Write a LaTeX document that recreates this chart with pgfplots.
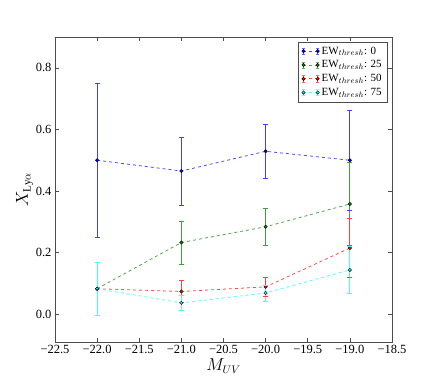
\documentclass[border=0pt]{standalone}
\usepackage{fontspec}
\setmainfont{Liberation Serif}
\usepackage{pgfplots}
\usepackage{pgfplotstable}
\pgfplotsset{compat=1.18}
\definecolor{mblue}{rgb}{0,0,1}
\definecolor{mgreen}{rgb}{0,0.5,0}
\definecolor{mred}{rgb}{1,0,0}
\definecolor{mcyan}{rgb}{0,1,1}
\pgfplotsset{
  ser/.style={
    color=#1!70!white, dashed, line width=0.8pt, mark=none,
    legend image code/.code={
      \draw[#1!70!white, dashed, line width=0.8pt] (0cm,0cm) -- (0.5cm,0cm);
      \draw[#1!75!white, solid, line width=0.7pt] (0cm,-0.11cm) -- (0cm,0.11cm) (0.5cm,-0.11cm) -- (0.5cm,0.11cm);
      \draw[#1!60!white, solid, line width=0.5pt] (-0.05cm,0.11cm) -- (0.05cm,0.11cm) (-0.05cm,-0.11cm) -- (0.05cm,-0.11cm)
         (0.45cm,0.11cm) -- (0.55cm,0.11cm) (0.45cm,-0.11cm) -- (0.55cm,-0.11cm);
      \filldraw[fill=#1, draw=black, solid, line width=0.4pt] (0cm,0cm) circle[radius=1.7pt] (0.5cm,0cm) circle[radius=1.7pt];
    },
  },
  bar/.style={solid, color=#1!75!white, line width=0.8pt,
    mark=-, mark size=2.5pt, mark options={solid, line width=0.6pt}, forget plot},
  mk/.style={only marks, mark=*, mark size=1.7pt,
    mark options={solid, fill=#1, draw=black, line width=0.4pt}, forget plot},
}
\pgfplotstableread{
x y
-22 0.500
-21 0.465
-20 0.529
-19 0.500
}\tblue
\pgfplotstableread{
x y
-22 0.083
-21 0.233
-20 0.284
-19 0.358
}\tgreen
\pgfplotstableread{
x y
-22 0.083
-21 0.074
-20 0.089
-19 0.215
}\tred
\pgfplotstableread{
x y
-22 0.083
-21 0.037
-20 0.069
-19 0.144
}\tcyan
% one error bar: colour, x, lower end, upper end
\newcommand\eb[4]{\addplot[bar=#1] coordinates {(#2,#3) (#2,#4)};}
\begin{document}
\begin{tikzpicture}
\begin{axis}[name=ax, scale only axis, width=337pt, height=305pt,
  xmin=-22.5, xmax=-18.5, ymin=-0.09, ymax=0.9,
  axis line style={black!70, line width=0.8pt},
  tick align=inside, major tick length=4pt,
  tick style={black!70, line width=0.6pt},
  xtick={-22.5,-22,-21.5,-21,-20.5,-20,-19.5,-19,-18.5},
  xticklabels={−22.5,−22.0,−21.5,−21.0,−20.5,−20.0,−19.5,−19.0,−18.5},
  ytick={0,0.2,0.4,0.6,0.8},
  yticklabels={0.0,0.2,0.4,0.6,0.8},
  ticklabel style={font=\fontsize{12.5}{14}\selectfont},
  xlabel={$M_{UV}$}, ylabel={$X_{\mathrm{Ly}\alpha}$},
  label style={font=\fontsize{16}{18}\selectfont},
  xlabel style={yshift=2pt}, ylabel style={yshift=-4pt},
  legend style={at={(0.985,0.985)}, anchor=north east, draw=black!70,
    font=\fontsize{11}{13}\selectfont, inner sep=3pt, row sep=1pt},
  legend cell align=left,
]
% EW 0
\addplot[ser=mblue] table[x=x, y=y] {\tblue};
\addlegendentry{EW$_{thresh}$: 0}
\eb{mblue}{-22}{0.250}{0.750}
\eb{mblue}{-21}{0.355}{0.575}
\eb{mblue}{-20}{0.441}{0.617}
\eb{mblue}{-19}{0.337}{0.663}
\addplot[mk=mblue] table[x=x, y=y] {\tblue};
% EW 25
\addplot[ser=mgreen] table[x=x, y=y] {\tgreen};
\addlegendentry{EW$_{thresh}$: 25}
\eb{mgreen}{-22}{-0.004}{0.170}
\eb{mgreen}{-21}{0.163}{0.303}
\eb{mgreen}{-20}{0.224}{0.344}
\eb{mgreen}{-19}{0.224}{0.492}
\addplot[mk=mgreen] table[x=x, y=y] {\tgreen};
% EW 50
\addplot[ser=mred] table[x=x, y=y] {\tred};
\addlegendentry{EW$_{thresh}$: 50}
\eb{mred}{-22}{-0.004}{0.170}
\eb{mred}{-21}{0.039}{0.109}
\eb{mred}{-20}{0.059}{0.119}
\eb{mred}{-19}{0.120}{0.310}
\addplot[mk=mred] table[x=x, y=y] {\tred};
% EW 75
\addplot[ser=mcyan] table[x=x, y=y] {\tcyan};
\addlegendentry{EW$_{thresh}$: 75}
\eb{mcyan}{-22}{-0.004}{0.170}
\eb{mcyan}{-21}{0.012}{0.062}
\eb{mcyan}{-20}{0.043}{0.095}
\eb{mcyan}{-19}{0.068}{0.220}
\addplot[mk=mcyan] table[x=x, y=y] {\tcyan};
\end{axis}
\pgfresetboundingbox
\path[use as bounding box] ([shift={(-55pt,-39pt)}]ax.south west) rectangle ++(436pt,381pt);
\end{tikzpicture}
\end{document}
